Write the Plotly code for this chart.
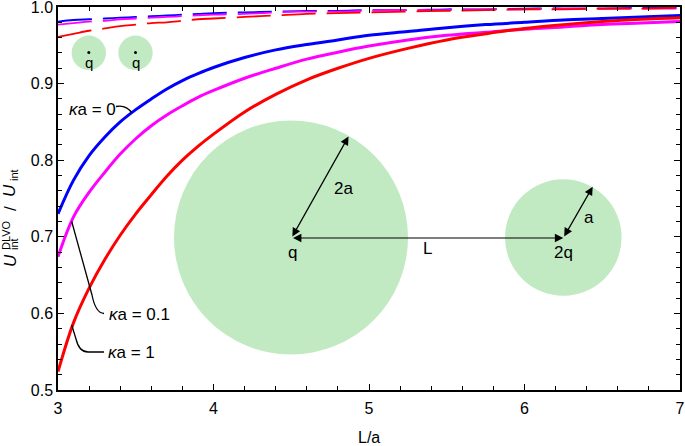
import plotly.graph_objects as go

# L/a grid and curves
x_vals = [3.0, 3.1, 3.2, 3.3, 3.4, 3.5, 3.6, 3.7, 3.8, 3.9, 4.0, 4.2, 4.4, 4.6, 4.8, 5.0,
          5.25, 5.5, 5.75, 6.0, 6.25, 6.5, 6.75, 7.0]

ka0_solid = [0.730, 0.774, 0.806, 0.830, 0.850, 0.866, 0.880, 0.893, 0.904, 0.913, 0.921, 0.934, 0.944, 0.951,
             0.957, 0.963, 0.968, 0.973, 0.977, 0.980, 0.983, 0.985, 0.987, 0.989]
ka01_solid = [0.674, 0.726, 0.758, 0.784, 0.808, 0.828, 0.845, 0.859, 0.871, 0.882, 0.891, 0.907, 0.920, 0.932,
              0.941, 0.949, 0.957, 0.963, 0.967, 0.971, 0.974, 0.977, 0.979, 0.981]
ka1_solid = [0.524, 0.588, 0.633, 0.670, 0.702, 0.730, 0.755, 0.779, 0.800, 0.818, 0.834, 0.863, 0.886, 0.905,
             0.920, 0.933, 0.946, 0.957, 0.965, 0.972, 0.977, 0.981, 0.984, 0.986]

ka0_dash = [0.981, 0.983, 0.984, 0.985, 0.986, 0.987, 0.988, 0.989, 0.990, 0.991, 0.992, 0.993, 0.994, 0.995,
            0.995, 0.996, 0.996, 0.997, 0.997, 0.998, 0.998, 0.998, 0.999, 0.999]
ka01_dash = [0.977, 0.979, 0.981, 0.982, 0.984, 0.985, 0.986, 0.987, 0.988, 0.989, 0.990, 0.991, 0.993, 0.994,
             0.994, 0.995, 0.996, 0.996, 0.997, 0.997, 0.998, 0.998, 0.998, 0.998]
ka1_dash = [0.961, 0.965, 0.969, 0.972, 0.975, 0.977, 0.979, 0.980, 0.982, 0.984, 0.985, 0.987, 0.989, 0.991,
            0.992, 0.993, 0.994, 0.995, 0.996, 0.997, 0.997, 0.998, 0.998, 0.999]

y_ticks = [0.5, 0.6, 0.7, 0.8, 0.9, 1.0]
y_tick_text = ["0.5", "0.6", "0.7", "0.8", "0.9", "1.0"]
x_ticks = [3, 4, 5, 6, 7]

colors = ["#0000ff", "#ff00ff", "#ff0000"]
labels = ["<i>κ</i>a = 0", "<i>κ</i>a = 0.1", "<i>κ</i>a = 1"]

FONT = "Liberation Sans, Arial, sans-serif"
GREEN = "#c2eac2"

# plot area in pixels (for placing the sketch)
L0, T0, W, H = 58, 7, 622, 383


def dx(px):
    return 3 + (px - L0) / W * 4


def dy(py):
    return 1 - (py - T0) / H * 0.5


def qx(px):
    return (px - L0) / W


def qy(py):
    return (T0 + H - py) / H


fig = go.Figure()

for ys, c in zip([ka0_dash, ka01_dash, ka1_dash], colors):
    fig.add_trace(go.Scatter(x=x_vals, y=ys, mode="lines", line=dict(color=c, width=1.8, dash="34px,11px", shape="spline"),
                             showlegend=False))

for ys, c in zip([ka0_solid, ka01_solid, ka1_solid], colors):
    fig.add_trace(go.Scatter(x=x_vals, y=ys, mode="lines", line=dict(color=c, width=3, shape="spline"),
                             showlegend=False))

# charge dots in the small spheres
fig.add_trace(go.Scatter(x=[dx(88.8), dx(135.5)], y=[dy(52.5), dy(52.5)], mode="markers",
                         marker=dict(color="black", size=3), showlegend=False))

shapes = []
# spheres
for cx, cy, r in [(291, 237.5, 117), (563.3, 237.5, 58.3), (88.8, 52.8, 17.2), (135.5, 52.8, 17.2)]:
    shapes.append(dict(type="circle", xref="x", yref="y", x0=dx(cx - r), x1=dx(cx + r), y0=dy(cy + r), y1=dy(cy - r),
                       fillcolor=GREEN, line=dict(width=0), layer="below"))


def path(pts):
    s = "M %f,%f" % (dx(pts[0][0]), dy(pts[0][1]))
    for p in pts[1:]:
        if len(p) == 4:
            s += " Q %f,%f %f,%f" % (dx(p[0]), dy(p[1]), dx(p[2]), dy(p[3]))
        else:
            s += " L %f,%f" % (dx(p[0]), dy(p[1]))
    return s


leaders = [
    [(116, 106.5), (126, 104.5, 132, 113)],
    [(71.7, 221.5), (92, 295), (95.5, 313, 104, 313.5)],
    [(71.7, 325), (76, 339), (79, 352, 88, 352), (104, 352)],
]
for pts in leaders:
    shapes.append(dict(type="path", xref="x", yref="y", path=path(pts), line=dict(color="black", width=1.3)))

ann = []
# curve labels
for (px, py), t in zip([(92, 109), (139, 314), (131.5, 352)], labels):
    ann.append(dict(x=dx(px), y=dy(py), xref="x", yref="y", text=t, showarrow=False,
                    font=dict(size=17, family=FONT, color="black")))

# double arrows in the sketch
for (x1, y1), (x0, y0) in [((348.5, 136.5), (291.5, 238)), ((563.3, 238), (291.5, 238)), ((592.7, 186.7), (563.3, 238))]:
    ann.append(dict(x=dx(x1), y=dy(y1), ax=dx(x0), ay=dy(y0), xref="x", yref="y", axref="x", ayref="y", text="",
                    showarrow=True, arrowhead=2, startarrowhead=2, arrowside="end+start", arrowsize=1.4,
                    startarrowsize=1.4, arrowwidth=1.2, arrowcolor="black"))

for (px, py), t in [((343, 188), "2a"), ((292, 252), "q"), ((427, 248), "L"), ((563.5, 252), "2q"),
                    ((589, 217), "a"), ((88.8, 62), "q"), ((135.5, 62), "q")]:
    ann.append(dict(x=dx(px), y=dy(py), xref="x", yref="y", text=t, showarrow=False,
                    font=dict(size=17 if py > 100 else 15, family=FONT, color="black")))

# y-axis title built from pieces so the super/subscripts stack
for (px, py), t, s in [((10, 260), "<i>U</i>", 17), ((6, 235), "DLVO", 11), ((14, 244), "int", 11),
                       ((10, 208), "/", 17), ((10, 190), "<i>U</i>", 17), ((14, 175), "int", 11)]:
    ann.append(dict(x=qx(px), y=qy(py), xref="paper", yref="paper", text=t, showarrow=False, textangle=-90,
                    xanchor="center", yanchor="middle", font=dict(size=s, family=FONT, color="black")))

# x-axis title
ann.append(dict(x=0.5, y=qy(437), xref="paper", yref="paper", text="L/a", showarrow=False,
                xanchor="center", yanchor="middle", font=dict(size=16, family=FONT, color="black")))

axis_common = dict(showline=True, linecolor="black", linewidth=1.5, mirror="allticks", ticks="inside",
                   ticklen=6, tickwidth=1.2, tickcolor="black", showgrid=False, zeroline=False, automargin=False,
                   ticklabeloverflow="allow", tickfont=dict(size=16, family=FONT, color="black"))

fig.update_layout(
    width=685, height=446,
    margin=dict(l=L0, r=685 - L0 - W, t=T0, b=446 - T0 - H),
    plot_bgcolor="white", paper_bgcolor="white",
    xaxis=dict(range=[3, 7], tickmode="array", tickvals=x_ticks, ticklabelstandoff=3,
               minor=dict(dtick=0.2, tick0=3, ticks="inside", ticklen=4, tickwidth=1, tickcolor="black"),
               **axis_common),
    yaxis=dict(range=[0.5, 1.0], tickmode="array", tickvals=y_ticks, ticktext=y_tick_text,
               minor=dict(dtick=0.02, tick0=0.5, ticks="inside", ticklen=4, tickwidth=1, tickcolor="black"),
               **axis_common),
    shapes=shapes,
    annotations=ann,
)

# the page's default body margin would shift the figure by 8px
fig.write_html("out.html", config={"displayModeBar": False},
               post_script="document.body.style.margin='0';")
